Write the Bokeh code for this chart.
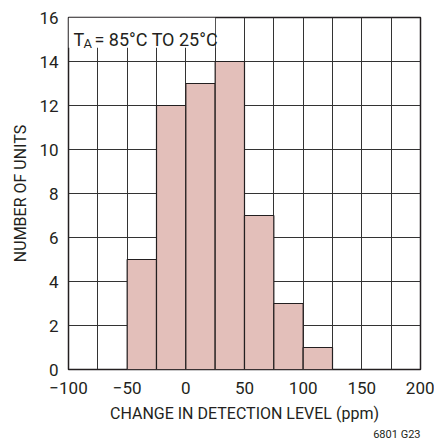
from bokeh.plotting import figure
from bokeh.models import SingleIntervalTicker, Label, FixedTicker, Title
from bokeh.embed import file_html
from bokeh.resources import INLINE

# Data
bin_left = [-50, -25, 0, 25, 50, 75, 100]
bin_width = 25
counts = [5, 12, 13, 14, 7, 3, 1]
x_ticks = [-100, -50, 0, 50, 100, 150, 200]
y_ticks = [0, 2, 4, 6, 8, 10, 12, 14, 16]

FONT = "Roboto"
TXT = "#231f20"

p = figure(width=434, height=442, output_backend="svg", toolbar_location=None,
           x_range=(-100, 200), y_range=(0, 16),
           min_border_left=68, min_border_right=14, min_border_top=17, min_border_bottom=73)
p.background_fill_color = "white"
p.border_fill_color = "white"
p.outline_line_color = "#231f20"
p.outline_line_width = 1.5

bin_right = [b + bin_width for b in bin_left]
p.quad(left=bin_left, right=bin_right, bottom=0, top=counts,
       fill_color="#e3bfba", line_color="#231f20", line_width=1.2)

# label background box
p.quad(left=[-100], right=[25], bottom=[14.62], top=[16], fill_color="white", line_color=None)

# grids
p.xgrid.ticker = SingleIntervalTicker(interval=25)
p.ygrid.ticker = SingleIntervalTicker(interval=2)
for g in (p.xgrid, p.ygrid):
    g.grid_line_color = "#333333"
    g.grid_line_width = 1
    g.grid_line_alpha = 1

# axes
p.xaxis.ticker = FixedTicker(ticks=x_ticks)
p.yaxis.ticker = FixedTicker(ticks=y_ticks)
p.xaxis.major_label_overrides = {t: (str(t).replace("-", "\u2212")) for t in x_ticks}
for ax in (p.xaxis, p.yaxis):
    ax.axis_line_color = None
    ax.major_tick_line_color = None
    ax.minor_tick_line_color = None
    ax.major_tick_out = 0
    ax.major_tick_in = 0
    ax.major_label_text_font = FONT
    ax.major_label_text_font_size = "17px"
    ax.major_label_text_color = TXT
    ax.axis_label_text_font = FONT
    ax.axis_label_text_font_size = "16px"
    ax.axis_label_text_font_style = "normal"
    ax.axis_label_text_color = TXT

p.xaxis.axis_label = "CHANGE IN DETECTION LEVEL (ppm)"
p.yaxis.axis_label = "NUMBER OF UNITS"
p.xaxis.major_label_standoff = 12
p.yaxis.major_label_standoff = 10
p.xaxis.axis_label_standoff = 7
p.yaxis.axis_label_standoff = 6

# condition label with subscript
p.add_layout(Label(x=-100, y=15.0, x_offset=5, text="T", text_font=FONT,
                   text_font_size="18px", text_color=TXT, text_baseline="alphabetic"))
p.add_layout(Label(x=-100, y=14.82, x_offset=15, text="A", text_font=FONT,
                   text_font_size="13px", text_color=TXT, text_baseline="alphabetic"))
p.add_layout(Label(x=-100, y=15.0, x_offset=26, text=" = 85°C TO 25°C", text_font=FONT,
                   text_font_size="18px", text_color=TXT, text_baseline="alphabetic"))

# figure code
p.add_layout(Title(text="6801 G23", align="right", text_font=FONT, text_font_size="11px",
                   text_font_style="normal", text_color=TXT, offset=0, standoff=1), "below")

open("out.html", "w").write(file_html(p, INLINE))
